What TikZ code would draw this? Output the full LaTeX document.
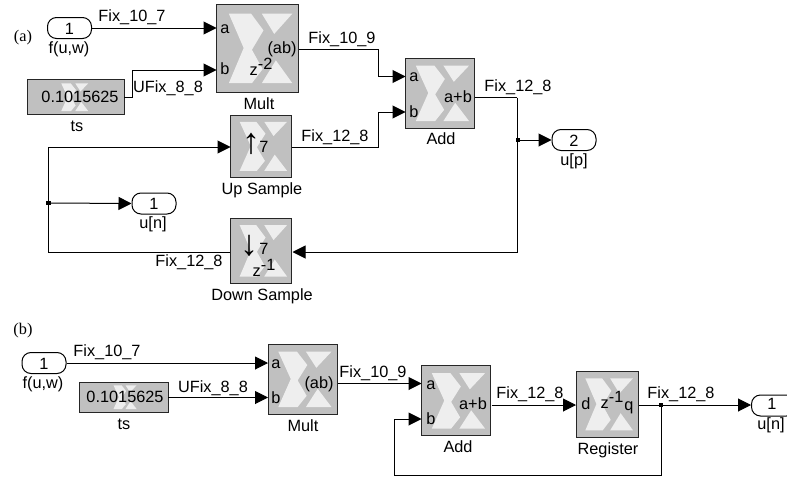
\documentclass[tikz,border=0pt]{standalone}
\usepackage{fontspec}
\setmainfont{Liberation Sans}
\newfontfamily\capfont{Liberation Serif}
\usetikzlibrary{arrows.meta, positioning, calc}
\definecolor{cBlock}{RGB}{192,192,192}
\definecolor{cLogo}{RGB}{238,238,238}
\tikzset{
	blk/.style ={rectangle, draw=black!85, line width=1pt, fill=cBlock, inner sep=0pt, outer sep=0pt},
	port/.style={rectangle, rounded corners=9pt, draw=black, line width=1pt, fill=white, minimum width=44pt, minimum height=21pt, inner sep=0pt},
	lab/.style ={inner sep=0pt, text height=15.5pt, text depth=3.5pt},
	big/.style ={inner sep=0pt, text height=15.5pt, text depth=3.5pt, font=\fontsize{36}{36}\selectfont},
	sig/.style ={-{Triangle[length=13pt,width=13pt]}, line width=1pt},
	wire/.style={line width=1pt},
	dot/.style ={rectangle, fill=black, minimum size=4.5pt, inner sep=0pt},
	xlogo/.pic={
		\fill[cLogo] (0.15,0.11) -- (0.42,0.11) -- (0.57,0.30) -- (0.43,0.52) -- (0.56,0.74) -- (0.43,0.90) -- (0.15,0.90) -- (0.33,0.50) -- cycle;
		\fill[cLogo] (0.55,0.11) -- (0.92,0.11) -- (0.70,0.34) -- cycle;
		\fill[cLogo] (0.55,0.90) -- (0.92,0.90) -- (0.72,0.64) -- cycle;
	},
}
\begin{document}
\begin{tikzpicture}[x=1pt, y=-1pt, font=\fontsize{16.3}{18}\selectfont]
	\useasboundingbox (0,0) rectangle (787,479);
	% (a) interpolator
	\node[lab] (capA) at (23,35) {\capfont (a)};
	\node[port] (inA) at (69.5,28) {};
	\node[blk, minimum width=82.5pt, minimum height=88pt] (multA) at (257.7,48) {};
	\node[blk, minimum width=97pt, minimum height=35pt] (tsA) at (75.5,97) {};
	\node[blk, minimum width=61.5pt, minimum height=62pt] (upA) at (261.2,146) {};
	\node[blk, minimum width=69pt, minimum height=70pt] (addA) at (440,93) {};
	\node[blk, minimum width=61.5pt, minimum height=65pt] (downA) at (261.2,250.5) {};
	\node[port] (outP) at (574,140) {};
	\node[port] (outN) at (154,203.5) {};
	\pic[xscale=82.5, yscale=88] at (multA.north west) {xlogo};
	\pic[xscale=35, yscale=35] at ($(tsA.north west)+(29,0)$) {xlogo};
	\pic[xscale=61.5, yscale=62] at (upA.north west) {xlogo};
	\pic[xscale=69, yscale=70] at (addA.north west) {xlogo};
	\pic[xscale=61.5, yscale=65] at (downA.north west) {xlogo};
	% block texts
	\node[lab] at (inA) {1};
	\node[lab] at (69,47) {f(u,w)};
	\node[lab] at (225,27) {a};
	\node[lab] at (225,68) {b};
	\node[lab] at (282,47) {(ab)};
	\node[lab] at (261,69) {z\raisebox{6pt}{-2}};
	\node[lab] at (259,103) {Mult};
	\node[lab] at (80,96) {0.1015625};
	\node[lab] at (77,125) {ts};
	\node[big] at (251,147) {↑};
	\node[lab] at (264,146) {7};
	\node[lab] at (262,188) {Up Sample};
	\node[lab] at (414,75) {a};
	\node[lab] at (414,111) {b};
	\node[lab] at (458,96) {a+b};
	\node[lab] at (441,138) {Add};
	\node[big] at (249,249) {↓};
	\node[lab] at (264,248) {7};
	\node[lab] at (264,270) {z\raisebox{6pt}{-1}};
	\node[lab] at (262,294) {Down Sample};
	\node[lab] at (outP) {2};
	\node[lab] at (574,159) {u[p]};
	\node[lab] at (outN) {1};
	\node[lab] at (153,222) {u[n]};
	% (a) wires
	\coordinate (multAa) at (216.5,28);
	\coordinate (multAb) at (216.5,70);
	\coordinate (addAa) at (405.5,76.5);
	\coordinate (addAb) at (405.5,112);
	\coordinate (upAin) at (230.5,147);
	\coordinate (downAin) at (292.5,252);
	\coordinate (forkP) at (517,97.5);
	\node[dot] (dotP) at (518,140) {};
	\node[dot] (dotN) at (48.5,203) {};
	\draw[sig] (inA) ++(22,0) -- (multAa);
	\draw[sig] (tsA.east) -- ++(8,0) |- (multAb);
	\draw[sig] (multA.east) ++(0,1) -- (378,49) |- (addAa);
	\draw[sig] (upA.east) ++(0,1) -- (378,147) |- (addAb);
	\draw[wire] (addA.east) ++(0,4.5) -- (forkP);
	\draw[sig] (forkP) |- (downAin);
	\draw[sig] (dotP) -- (outP.west);
	\draw[sig] (downA.west) ++(0,1.5) -- (48,252) |- (upAin);
	\draw[sig] (dotN) -- (outN.west);
	\node[lab] at (132,15.5) {Fix\_10\_7};
	\node[lab] at (168,86) {UFix\_8\_8};
	\node[lab] at (342,37) {Fix\_10\_9};
	\node[lab] at (335,135) {Fix\_12\_8};
	\node[lab] at (518,85) {Fix\_12\_8};
	\node[lab] at (189,260) {Fix\_12\_8};
	% (b) direct form
	\node[lab] (capB) at (23,328) {\capfont (b)};
	\node[port] (inB) at (44,363) {};
	\node[blk, minimum width=69pt, minimum height=70pt] (multB) at (302.5,379) {};
	\node[blk, minimum width=89pt, minimum height=30pt] (tsB) at (123.5,397) {};
	\node[blk, minimum width=69pt, minimum height=70pt] (addB) at (456,400.5) {};
	\node[blk, minimum width=62pt, minimum height=66pt] (regB) at (607,404) {};
	\node[port, anchor=west] (outB) at (751,405.5) {};
	\pic[xscale=69, yscale=70] at (multB.north west) {xlogo};
	\pic[xscale=30, yscale=30] at ($(tsB.north west)+(30,0)$) {xlogo};
	\pic[xscale=69, yscale=70] at (addB.north west) {xlogo};
	\pic[xscale=62, yscale=66] at (regB.north west) {xlogo};
	\node[lab] at (inB) {1};
	\node[lab] at (43,382) {f(u,w)};
	\node[lab] at (276,362) {a};
	\node[lab] at (276,397) {b};
	\node[lab] at (319,382) {(ab)};
	\node[lab] at (303,425) {Mult};
	\node[lab] at (125,396) {0.1015625};
	\node[lab] at (124,423) {ts};
	\node[lab] at (431,383) {a};
	\node[lab] at (431,418) {b};
	\node[lab] at (473,403) {a+b};
	\node[lab] at (458,446) {Add};
	\node[lab] at (586,403) {d};
	\node[lab] at (612,402) {z\raisebox{6pt}{-1}};
	\node[lab] at (629,404) {q};
	\node[lab] at (608,448) {Register};
	\node[lab] at (772,403) {1};
	\node[lab] at (771,423) {u[n]};
	% (b) wires
	\coordinate (multBa) at (268,363);
	\coordinate (multBb) at (268,397.5);
	\coordinate (addBa) at (421.5,383.5);
	\coordinate (addBb) at (421.5,419);
	\coordinate (regBd) at (576,405);
	\coordinate (outBin) at (751,405);
	\node[dot] (dotB) at (661,405) {};
	\draw[sig] (inB.east) -- (multBa);
	\draw[sig] (tsB.east) ++(0,0.5) -- (multBb);
	\draw[sig] (multB.east) ++(1,4.5) -- (397,383.5) -- (addBa);
	\draw[sig] (addB.east) ++(1,4.5) -- (regBd);
	\draw[sig] (regB.east) ++(1,1) -- (outBin);
	\draw[sig] (dotB) -- (661,475) -- (394,475) |- (addBb);
	\node[lab] at (107,350) {Fix\_10\_7};
	\node[lab] at (213,386) {UFix\_8\_8};
	\node[lab] at (373,371) {Fix\_10\_9};
	\node[lab] at (530,392) {Fix\_12\_8};
	\node[lab] at (681,392) {Fix\_12\_8};
\end{tikzpicture}
\end{document}
